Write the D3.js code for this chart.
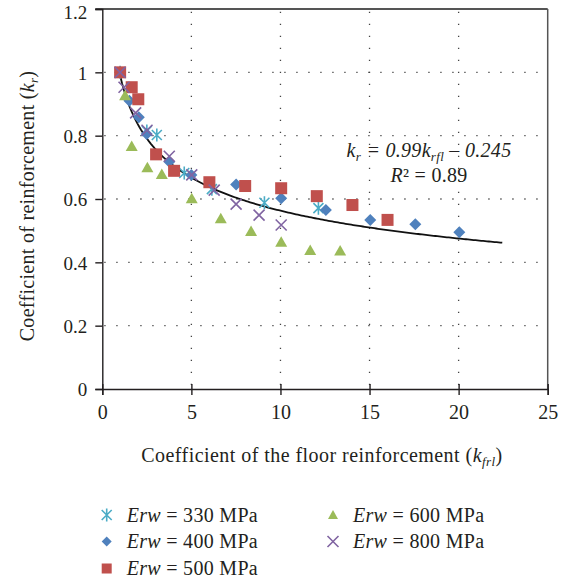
<!DOCTYPE html>
<html>
<head>
<meta charset="utf-8">
<script src="https://cdn.jsdelivr.net/npm/d3@7"></script>
<style>
  html, body { margin: 0; padding: 0; background: #fff; }
  svg text { font-family: "Liberation Serif", "DejaVu Serif", serif; fill: #231f20; }
</style>
</head>
<body>
<svg id="chart" width="569" height="583"></svg>
<script>
// ---------- data ----------
const seriesNames = ["330", "400", "500", "600", "800"];
const x330 = [1, 2.5, 3.06, 4.6, 6.15, 9.1, 12.13];
const y330 = [1, 0.815, 0.802, 0.682, 0.631, 0.588, 0.571];
const x400 = [1, 1.52, 2.05, 2.49, 3.76, 5.0, 7.51, 10.04, 12.55, 15.04, 17.57, 20.04];
const y400 = [1, 0.91, 0.858, 0.805, 0.718, 0.676, 0.646, 0.602, 0.565, 0.534, 0.52, 0.495];
const x500 = [1, 1.65, 2.02, 3.02, 4.03, 6.01, 8.02, 10.04, 12.04, 14.04, 16.01];
const y500 = [1, 0.953, 0.915, 0.741, 0.689, 0.653, 0.641, 0.634, 0.609, 0.581, 0.534];
const x600 = [1.28, 1.65, 2.53, 3.34, 5.02, 6.65, 8.35, 10.04, 11.67, 13.35];
const y600 = [0.928, 0.767, 0.70, 0.679, 0.602, 0.539, 0.499, 0.465, 0.439, 0.437];
const x800 = [1, 1.22, 1.87, 2.51, 3.76, 5.02, 6.28, 7.51, 8.8, 10.04];
const y800 = [1, 0.953, 0.872, 0.817, 0.735, 0.676, 0.628, 0.584, 0.549, 0.518];
const xTicks = [0, 5, 10, 15, 20, 25];
const yTicks = [0, 0.2, 0.4, 0.6, 0.8, 1, 1.2];
const yTickLabels = ["0", "0.2", "0.4", "0.6", "0.8", "1", "1.2"];
// trendline: k_r = a * k_rfl^b  (fit shown on chart)
const trendA = 0.99, trendB = -0.245;
const trendRange = [1, 22.45];

// ---------- styles ----------
const colors = {"330": "#4bacc6", "400": "#4f81bd", "500": "#c0504d", "600": "#9bbb59", "800": "#8064a2"};
const shapes = {"330": "asterisk", "400": "diamond", "500": "square", "600": "triangle", "800": "x"};
const FS = 20, TFS = 19;

const svg = d3.select("#chart");
const L = 102.3, R = 547.7, T = 9, B = 389;
const x = d3.scaleLinear().domain([0, 25]).range([L, R]);
const y = d3.scaleLinear().domain([0, 1.2]).range([B, T]);

// gridlines (dotted)
const grid = svg.append("g");
yTicks.filter(v => v > 0 && v < 1.2).forEach(v => {
  grid.append("line").attr("x1", L).attr("x2", R).attr("y1", y(v)).attr("y2", y(v))
    .attr("stroke", "#444").attr("stroke-width", 1.3).attr("stroke-dasharray", "1.3 10.7")
    .attr("stroke-dashoffset", -2);
});
xTicks.filter(v => v > 0 && v < 25).forEach(v => {
  grid.append("line").attr("x1", x(v)).attr("x2", x(v)).attr("y1", B).attr("y2", T)
    .attr("stroke", "#444").attr("stroke-width", 1.3).attr("stroke-dasharray", "1.3 10.7")
    .attr("stroke-dashoffset", -4);
});
// frame top & right
svg.append("line").attr("x1", L - 7).attr("x2", R).attr("y1", T).attr("y2", T)
  .attr("stroke", "#555").attr("stroke-width", 1.8);
svg.append("line").attr("x1", R).attr("x2", R).attr("y1", T).attr("y2", B)
  .attr("stroke", "#555").attr("stroke-width", 1.5);

// axes
const yAxis = d3.axisLeft(y).tickValues(yTicks).tickFormat((d, i) => yTickLabels[i]).tickSize(7).tickPadding(8);
const gy = svg.append("g").attr("transform", `translate(${L},0)`).call(yAxis);
gy.select(".domain").attr("stroke", "#231f20").attr("stroke-width", 1.4);
gy.selectAll(".tick line").attr("stroke", "#231f20").attr("stroke-width", 1.4);
gy.selectAll(".tick text").attr("font-size", TFS).attr("font-family", "Liberation Serif").attr("fill", "#231f20")
  .attr("dy", d => d === 1.2 ? "0.48em" : "0.36em");

const xAxis = d3.axisBottom(x).tickValues(xTicks).tickFormat(d3.format("d")).tickSize(6).tickPadding(10);
const gx = svg.append("g").attr("transform", `translate(0,${B})`).call(xAxis);
gx.select(".domain").attr("stroke", "#231f20").attr("stroke-width", 1.4);
gx.selectAll(".tick line").attr("stroke", "#231f20").attr("stroke-width", 1.4).attr("y1", -5);
gx.selectAll(".tick text").attr("font-size", FS).attr("font-family", "Liberation Serif").attr("fill", "#231f20");

// trendline
const tx = d3.range(0, 201).map(i => trendRange[0] + (trendRange[1] - trendRange[0]) * i / 200);
svg.append("path")
  .datum(tx.map(v => [v, trendA * Math.pow(v, trendB)]))
  .attr("d", d3.line().x(d => x(d[0])).y(d => y(d[1])))
  .attr("fill", "none").attr("stroke", "#111").attr("stroke-width", 1.8);

// markers
function drawMarker(g, shape, color, cx, cy) {
  if (shape === "square") {
    g.append("rect").attr("x", cx - 6).attr("y", cy - 6).attr("width", 12).attr("height", 12).attr("fill", color);
  } else if (shape === "diamond") {
    g.append("path").attr("d", `M${cx},${cy-6}L${cx+6},${cy}L${cx},${cy+6}L${cx-6},${cy}Z`).attr("fill", color);
  } else if (shape === "triangle") {
    g.append("path").attr("d", `M${cx},${cy-5.5}L${cx+6},${cy+5}L${cx-6},${cy+5}Z`).attr("fill", color);
  } else if (shape === "x") {
    const s = 5.5;
    g.append("path").attr("d", `M${cx-s},${cy-s}L${cx+s},${cy+s}M${cx-s},${cy+s}L${cx+s},${cy-s}`)
      .attr("stroke", color).attr("stroke-width", 1.6).attr("fill", "none");
  } else if (shape === "asterisk") {
    const s = 5;
    g.append("path").attr("d", `M${cx-s},${cy-s}L${cx+s},${cy+s}M${cx-s},${cy+s}L${cx+s},${cy-s}M${cx},${cy-6.5}L${cx},${cy+6.5}`)
      .attr("stroke", color).attr("stroke-width", 1.6).attr("fill", "none");
  }
}
const allX = {"330": x330, "400": x400, "500": x500, "600": x600, "800": x800};
const allY = {"330": y330, "400": y400, "500": y500, "600": y600, "800": y800};
const gm = svg.append("g");
seriesNames.forEach(s => {
  allX[s].forEach((xv, i) => drawMarker(gm, shapes[s], colors[s], x(xv), y(allY[s][i])));
});

// equation
const eq = svg.append("text").attr("x", 429).attr("y", 157).attr("text-anchor", "middle")
  .attr("font-size", FS).attr("font-style", "italic").attr("letter-spacing", 0.3);
eq.append("tspan").text("k");
eq.append("tspan").attr("font-size", 13).attr("dy", 4).text("r");
eq.append("tspan").attr("dy", -4).text(" = 0.99k");
eq.append("tspan").attr("font-size", 13).attr("dy", 4).text("rfl");
eq.append("tspan").attr("dy", -4).text(" \u2013 0.245");
const r2 = svg.append("text").attr("x", 429).attr("y", 182).attr("text-anchor", "middle").attr("font-size", FS).attr("letter-spacing", 0.3);
r2.append("tspan").attr("font-style", "italic").text("R");
r2.append("tspan").text("\u00B2 = 0.89");

// axis titles
const xt = svg.append("text").attr("x", 322).attr("y", 462).attr("text-anchor", "middle").attr("font-size", FS).attr("letter-spacing", 0.45);
xt.append("tspan").text("Coefficient of the floor reinforcement (");
xt.append("tspan").attr("font-style", "italic").text("k");
xt.append("tspan").attr("font-style", "italic").attr("font-size", 13).attr("dy", 4).text("frl");
xt.append("tspan").attr("dy", -4).text(")");

const yt = svg.append("text").attr("transform", "translate(34,206) rotate(-90)").attr("text-anchor", "middle").attr("font-size", FS).attr("letter-spacing", 0.3);
yt.append("tspan").text("Coefficient of reinforcement (");
yt.append("tspan").attr("font-style", "italic").text("k");
yt.append("tspan").attr("font-style", "italic").attr("font-size", 13).attr("dy", 4).text("r");
yt.append("tspan").attr("dy", -4).text(")");

// legend
const legendPos = {"330": [106.7, 515], "400": [106.7, 541.5], "500": [106.7, 568.5], "600": [333, 515], "800": [333, 541.5]};
const gl = svg.append("g");
seriesNames.forEach(s => {
  const [lx, ly] = legendPos[s];
  const sh = shapes[s];
  if (sh === "square") {
    gl.append("rect").attr("x", lx - 5).attr("y", ly - 5).attr("width", 10).attr("height", 10).attr("fill", colors[s]);
  } else if (sh === "diamond") {
    gl.append("path").attr("d", `M${lx},${ly-5}L${lx+5},${ly}L${lx},${ly+5}L${lx-5},${ly}Z`).attr("fill", colors[s]);
  } else if (sh === "triangle") {
    gl.append("path").attr("d", `M${lx},${ly-5}L${lx+5},${ly+4}L${lx-5},${ly+4}Z`).attr("fill", colors[s]);
  } else {
    drawMarker(gl, sh, colors[s], lx, ly);
  }
  const t = gl.append("text").attr("x", lx + 20).attr("y", ly + 6.5).attr("font-size", FS).attr("letter-spacing", 0.3);
  t.append("tspan").attr("font-style", "italic").text("Erw");
  t.append("tspan").text(" = " + s + " MPa");
});
</script>
</body>
</html>
